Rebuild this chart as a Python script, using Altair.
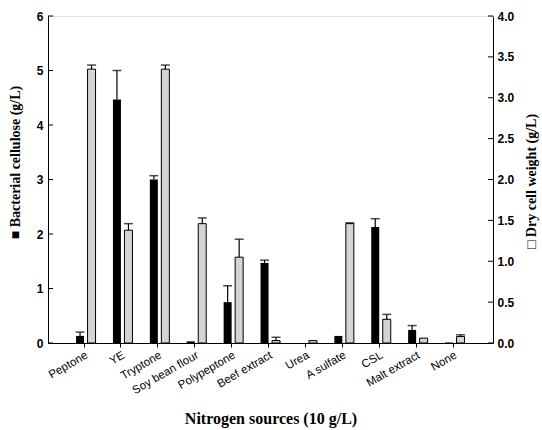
import altair as alt
import pandas as pd

categories = ["Peptone", "YE", "Tryptone", "Soy bean flour", "Polypeptone",
              "Beef extract", "Urea", "A sulfate", "CSL", "Malt extract", "None"]
bc = [0.13, 4.47, 3.00, 0.03, 0.75, 1.47, 0.00, 0.13, 2.13, 0.24, 0.01]
bc_err = [0.07, 0.53, 0.07, 0.0, 0.30, 0.05, 0.0, 0.0, 0.15, 0.08, 0.0]
dcw = [3.35, 1.38, 3.35, 1.46, 1.05, 0.03, 0.03, 1.46, 0.29, 0.06, 0.08]
dcw_err = [0.05, 0.08, 0.05, 0.07, 0.22, 0.04, 0.0, 0.01, 0.06, 0.0, 0.02]
left_ticks = [0, 1, 2, 3, 4, 5, 6]
right_ticks = [0, 0.5, 1.0, 1.5, 2.0, 2.5, 3.0, 3.5, 4.0]

df = pd.DataFrame({"cat": categories, "bc": bc, "bc_err": bc_err,
                   "dcw": dcw, "dcw_err": dcw_err})
df["bc_hi"] = df["bc"] + df["bc_err"]
df["dcw_hi"] = df["dcw"] + df["dcw_err"]

W, H = 445, 327
serif = "Liberation Serif"
sans = "Liberation Sans"

xenc = alt.X("cat:N", sort=categories,
             scale=alt.Scale(paddingInner=0, paddingOuter=0.53, align=0.45),
             axis=alt.Axis(title="Nitrogen sources (10 g/L)", labelAngle=330,
                           labelAlign="right", labelBaseline="top",
                           labelFont=sans, labelFontSize=11.5, labelColor="black",
                           labelPadding=2, tickSize=4, tickColor="black",
                           domainColor="black", titleFont=serif, titleFontSize=16,
                           titleFontWeight="bold", titleColor="black",
                           titleY=75, titleBaseline="middle"))

yl_scale = alt.Scale(domain=[0, 6], nice=False, zero=True)
yr_scale = alt.Scale(domain=[0, 4], nice=False, zero=True)

yl_axis = alt.Axis(orient="left", values=left_ticks, format="d", ticks=False, grid=False,
                   title="■  Bacterial cellulose (g/L)", labelFont=sans,
                   labelFontSize=12, labelFontWeight="bold", labelColor="black",
                   labelPadding=5, domainColor="black", titleFont=serif,
                   titleFontSize=14, titleFontWeight="bold", titleColor="black",
                   titleAngle=270, titleX=-33, titleY=146, titleAlign="center",
                   titleBaseline="middle")
yr_axis = alt.Axis(orient="right", values=right_ticks, format=".1f", ticks=False,
                   grid=False, title="□  Dry cell weight (g/L)", labelFont=sans,
                   labelFontSize=12, labelFontWeight="bold", labelColor="black",
                   labelPadding=4, domainColor="black", titleFont=serif,
                   titleFontSize=14, titleFontWeight="bold", titleColor="black",
                   titleAngle=270, titleX=38, titleY=165, titleAlign="center",
                   titleBaseline="middle")

base = alt.Chart(df)

bc_bars = base.mark_bar(width=8, xOffset=-4, color="black").encode(
    x=xenc, y=alt.Y("bc:Q", scale=yl_scale, axis=yl_axis))
bc_rule = base.transform_filter("datum.bc_err > 0").mark_rule(
    xOffset=-4, color="black", strokeWidth=1.2).encode(
    x=alt.X("cat:N", sort=categories), y=alt.Y("bc:Q"), y2="bc_hi:Q")
bc_cap = base.transform_filter("datum.bc_err > 0").mark_tick(
    xOffset=-4, size=9, thickness=1.5, color="black").encode(
    x=alt.X("cat:N", sort=categories), y=alt.Y("bc_hi:Q"))
lt = alt.Chart(pd.DataFrame({"v": left_ticks})).mark_rule(
    color="black", strokeWidth=1).encode(
    y=alt.Y("v:Q"), x=alt.value(0), x2=alt.value(5))
left = alt.layer(bc_bars, bc_rule, bc_cap, lt)

dcw_bars = base.mark_bar(width=8, xOffset=7.5, fill="#d4d4d4", stroke="black",
                         strokeWidth=1).encode(
    x=xenc, y=alt.Y("dcw:Q", scale=yr_scale, axis=yr_axis))
dcw_rule = base.transform_filter("datum.dcw_err > 0").mark_rule(
    xOffset=7.5, color="black", strokeWidth=1.2).encode(
    x=alt.X("cat:N", sort=categories), y=alt.Y("dcw:Q"), y2="dcw_hi:Q")
dcw_cap = base.transform_filter("datum.dcw_err > 0").mark_tick(
    xOffset=7.5, size=9, thickness=1.5, color="black").encode(
    x=alt.X("cat:N", sort=categories), y=alt.Y("dcw_hi:Q"))
rt = alt.Chart(pd.DataFrame({"v": right_ticks})).mark_rule(
    color="black", strokeWidth=1).encode(
    y=alt.Y("v:Q"), x=alt.value(W - 5), x2=alt.value(W))
right = alt.layer(dcw_bars, dcw_rule, dcw_cap, rt)

chart = alt.layer(left, right).resolve_scale(y="independent").properties(
    width=W, height=H,
    autosize=alt.AutoSizeParams(type="none"),
    padding={"left": 48, "top": 16, "right": 49, "bottom": 87},
).configure_view(stroke="black", strokeWidth=1).configure(background="white")

chart.save("out.html", embed_options={"renderer": "svg", "actions": False})
